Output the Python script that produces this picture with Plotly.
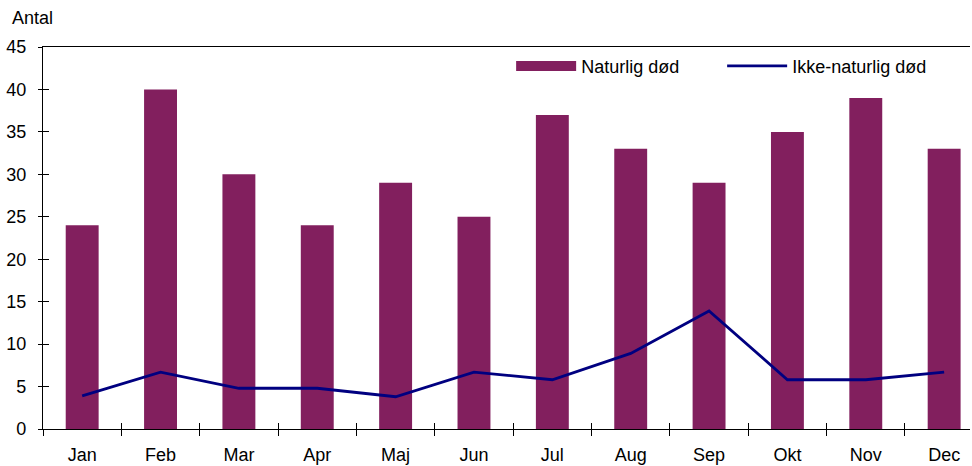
import plotly.graph_objects as go

months = ["Jan", "Feb", "Mar", "Apr", "Maj", "Jun", "Jul", "Aug", "Sep", "Okt", "Nov", "Dec"]
naturlig = [24, 40, 30, 24, 29, 25, 37, 33, 29, 35, 39, 33]
ikke_naturlig = [3.9, 6.7, 4.8, 4.8, 3.8, 6.7, 5.8, 8.9, 13.9, 5.8, 5.8, 6.7]
y_ticks = [0, 5, 10, 15, 20, 25, 30, 35, 40, 45]

BAR = "#821F5E"
LINE = "#000080"
FONT = "Liberation Sans, Arial, sans-serif"
FS = 18

fig = go.Figure()
fig.add_trace(go.Bar(x=months, y=naturlig, name="Naturlig død", showlegend=False,
                     marker=dict(color=BAR, line=dict(width=0))))
# legend proxy for the bar series (wide rectangle swatch, as in the reference)
fig.add_trace(go.Scatter(x=[None], y=[None], name="Naturlig død", mode="lines",
                         line=dict(color=BAR, width=11), hoverinfo="skip"))
fig.add_trace(go.Scatter(x=months, y=ikke_naturlig, name="Ikke-naturlig død",
                         mode="lines", line=dict(color=LINE, width=2.8)))
# helper trace for overlay axes that draw the inner half of the crossing ticks
fig.add_trace(go.Scatter(x=[None], y=[None], xaxis="x2", yaxis="y2",
                         showlegend=False, hoverinfo="skip"))

n = len(months)
fig.update_layout(
    width=972, height=466,
    margin=dict(l=43, r=2, t=47, b=37),
    plot_bgcolor="white", paper_bgcolor="white",
    font=dict(family=FONT, size=FS, color="black"),
    bargap=0.58,
    showlegend=True,
    legend=dict(orientation="h", x=0.505, y=0.998, xanchor="left", yanchor="top",
                bgcolor="rgba(0,0,0,0)", itemwidth=60, font=dict(size=FS),
                entrywidth=136, entrywidthmode="pixels",
                traceorder="normal", tracegroupgap=0),
    xaxis=dict(type="category", range=[-0.5, 11.33], showline=True, linecolor="black",
               linewidth=1.3, mirror=True, ticks="outside", tickson="boundaries",
               ticklen=6, tickcolor="black", showgrid=False, ticklabelstandoff=9,
               automargin=False, fixedrange=True),
    yaxis=dict(range=[0, 45], tickvals=y_ticks, showline=True, linecolor="black",
               linewidth=1.3, ticks="outside", ticklen=4, tickcolor="black",
               showgrid=False, zeroline=False, ticklabelstandoff=8, automargin=False),
    xaxis2=dict(overlaying="x", range=[-0.5, 11.33], tickvals=[i + 0.5 for i in range(n - 1)],
                ticks="inside", ticklen=6, tickcolor="black", showticklabels=False,
                showgrid=False, zeroline=False, showline=False, side="bottom"),
    yaxis2=dict(overlaying="y", range=[0, 45], tickvals=y_ticks, ticks="inside",
                ticklen=6, tickcolor="black", showticklabels=False, showgrid=False,
                zeroline=False, showline=False, side="left"),
    annotations=[dict(text="Antal", xref="paper", yref="paper", x=0, y=1,
                      xanchor="left", yanchor="middle", xshift=-33, yshift=29,
                      showarrow=False, font=dict(size=FS))],
)

fig.write_html("out.html", config={"displayModeBar": False},
               post_script="document.body.style.margin='0';document.body.style.overflow='hidden';")
